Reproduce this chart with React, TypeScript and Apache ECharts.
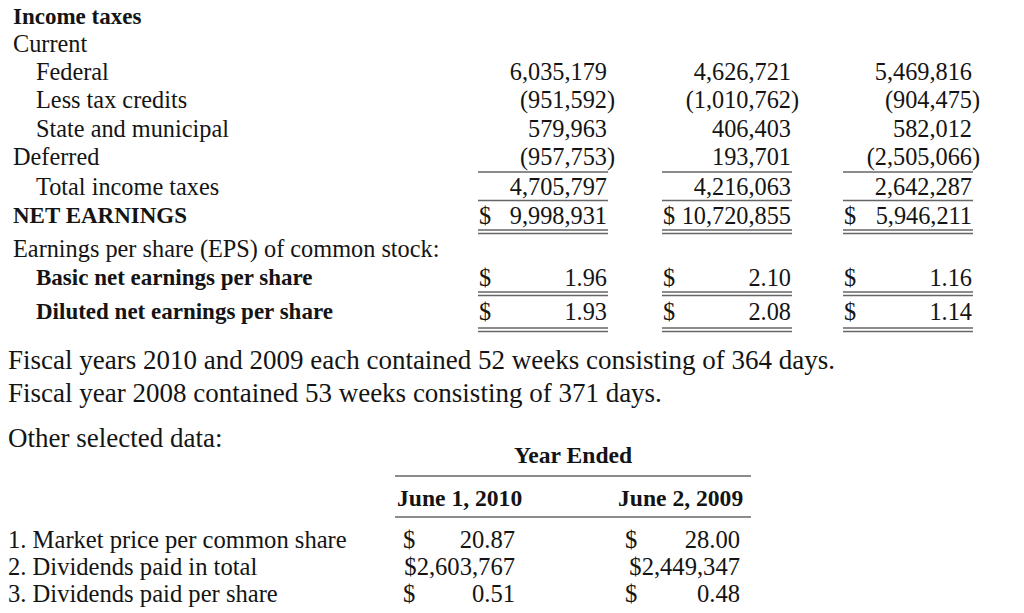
import React, { useEffect, useRef } from "react";
import * as echarts from "echarts";

// ---------- data ----------
const rowLabels = [
  "Income taxes",
  "Current",
  "Federal",
  "Less tax credits",
  "State and municipal",
  "Deferred",
  "Total income taxes",
  "NET EARNINGS",
  "Earnings per share (EPS) of common stock:",
  "Basic net earnings per share",
  "Diluted net earnings per share",
];
const federal = [6035179, 4626721, 5469816];
const lessTaxCredits = [-951592, -1010762, -904475];
const stateMunicipal = [579963, 406403, 582012];
const deferred = [-957753, 193701, -2505066];
const totalIncomeTaxes = [4705797, 4216063, 2642287];
const netEarnings = [9998931, 10720855, 5946211];
const basicEPS = [1.96, 2.1, 1.16];
const dilutedEPS = [1.93, 2.08, 1.14];

const footnotes = [
  "Fiscal years 2010 and 2009 each contained 52 weeks consisting of 364 days.",
  "Fiscal year 2008 contained 53 weeks consisting of 371 days.",
];
const otherTitle = "Other selected data:";
const yearEndedHeader = "Year Ended";
const yearEndedDates = ["June 1, 2010", "June 2, 2009"];
const otherLabels = [
  "1. Market price per common share",
  "2. Dividends paid in total",
  "3. Dividends paid per share",
];
const marketPrice = [20.87, 28.0];
const dividendsTotal = [2603767, 2449347];
const dividendsPerShare = [0.51, 0.48];

// ---------- layout ----------
const FONT = '"Liberation Serif", "Times New Roman", serif';
const INK = "#141414";
const RULE = "#666666";
const TOP_SIZE = 24.3;
const TOP_BOLD_SIZE = 23;
const NOTE_SIZE = 27;
const BOT_SIZE = 24.6;

const rowY = [16, 43, 71, 99, 128, 156, 186, 215, 248, 277, 311];
const rowIndent = [13, 13, 36, 36, 36, 13, 36, 13, 13, 36, 36];
const rowBold = [true, false, false, false, false, false, false, true, false, true, true];

const colLeft = [478, 662, 843];
const colRight = [607, 791, 972];

const fmtInt = (n: number) => Math.abs(n).toLocaleString("en-US");
const fmtDec = (n: number) => n.toFixed(2);

function txt(
  text: string,
  x: number,
  y: number,
  size: number,
  align: string = "left",
  bold = false
) {
  return {
    type: "text",
    x,
    y,
    silent: true,
    style: {
      text,
      fill: INK,
      fontFamily: FONT,
      fontSize: size,
      fontWeight: bold ? "bold" : "normal",
      textAlign: align,
      textVerticalAlign: "middle",
    },
  };
}

function rule(x1: number, x2: number, y: number) {
  return {
    type: "line",
    silent: true,
    shape: { x1, y1: y, x2, y2: y },
    style: { stroke: RULE, lineWidth: 1.4 },
  };
}

function numCell(v: number, col: number, y: number, els: any[]) {
  const R = colRight[col];
  if (v < 0) {
    els.push(txt("(" + fmtInt(v), R, y, TOP_SIZE, "right"));
    els.push(txt(")", R, y, TOP_SIZE, "left"));
  } else {
    els.push(txt(fmtInt(v), R, y, TOP_SIZE, "right"));
  }
}

function buildGraphics() {
  const els: any[] = [];
  // top table labels
  rowLabels.forEach((t, i) => {
    els.push(
      txt(t, rowIndent[i], rowY[i], rowBold[i] ? TOP_BOLD_SIZE : TOP_SIZE, "left", rowBold[i])
    );
  });
  const numericRows: [number[], number][] = [
    [federal, 2],
    [lessTaxCredits, 3],
    [stateMunicipal, 4],
    [deferred, 5],
    [totalIncomeTaxes, 6],
  ];
  numericRows.forEach(([arr, r]) => {
    arr.forEach((v, c) => numCell(v, c, rowY[r], els));
  });
  netEarnings.forEach((v, c) => {
    els.push(txt("$", colLeft[c] + 1, rowY[7], TOP_SIZE, "left"));
    els.push(txt(fmtInt(v), colRight[c], rowY[7], TOP_SIZE, "right"));
  });
  basicEPS.forEach((v, c) => {
    els.push(txt("$", colLeft[c] + 1, rowY[9], TOP_SIZE, "left"));
    els.push(txt(fmtDec(v), colRight[c], rowY[9], TOP_SIZE, "right"));
  });
  dilutedEPS.forEach((v, c) => {
    els.push(txt("$", colLeft[c] + 1, rowY[10], TOP_SIZE, "left"));
    els.push(txt(fmtDec(v), colRight[c], rowY[10], TOP_SIZE, "right"));
  });
  // rules in top table
  colLeft.forEach((L, c) => {
    const R = colRight[c] + 1;
    els.push(rule(L, R, 172));
    els.push(rule(L, R, 200.5));
    els.push(rule(L, R, 230));
    els.push(rule(L, R, 233.5));
    els.push(rule(L, R, 292));
    els.push(rule(L, R, 295.5));
    els.push(rule(L, R, 328));
    els.push(rule(L, R, 331.5));
  });

  // footnotes
  els.push(txt(footnotes[0], 8, 360, NOTE_SIZE));
  els.push(txt(footnotes[1], 8, 393, NOTE_SIZE));
  els.push(txt(otherTitle, 8, 438, NOTE_SIZE));

  // other selected data table
  els.push(txt(yearEndedHeader, 573, 455, BOT_SIZE - 1, "center", true));
  els.push(rule(395, 751, 476));
  const dateLeft = [397, 618];
  yearEndedDates.forEach((d, c) => els.push(txt(d, dateLeft[c], 498, BOT_SIZE - 1, "left", true)));
  els.push(rule(395, 751, 517));
  const bRows = [539, 566, 593];
  otherLabels.forEach((t, i) => els.push(txt(t, 8, bRows[i], BOT_SIZE)));
  const bDollar = [403, 625];
  const bRight = [515, 740];
  marketPrice.forEach((v, c) => {
    els.push(txt("$", bDollar[c], bRows[0], BOT_SIZE));
    els.push(txt(fmtDec(v), bRight[c], bRows[0], BOT_SIZE, "right"));
  });
  dividendsTotal.forEach((v, c) => {
    els.push(txt("$" + fmtInt(v), bRight[c], bRows[1], BOT_SIZE, "right"));
  });
  dividendsPerShare.forEach((v, c) => {
    els.push(txt("$", bDollar[c], bRows[2], BOT_SIZE));
    els.push(txt(fmtDec(v), bRight[c], bRows[2], BOT_SIZE, "right"));
  });
  return els;
}

export default function App() {
  const ref = useRef<HTMLDivElement>(null);
  useEffect(() => {
    if (!ref.current) return;
    const chart = echarts.init(ref.current, undefined, { renderer: "svg" });
    chart.setOption({
      animation: false,
      backgroundColor: "#ffffff",
      graphic: { elements: buildGraphics() },
    });
    return () => chart.dispose();
  }, []);
  return (
    <div
      ref={ref}
      style={{ position: "absolute", left: 0, top: 0, width: 1024, height: 613, background: "#fff" }}
    />
  );
}
